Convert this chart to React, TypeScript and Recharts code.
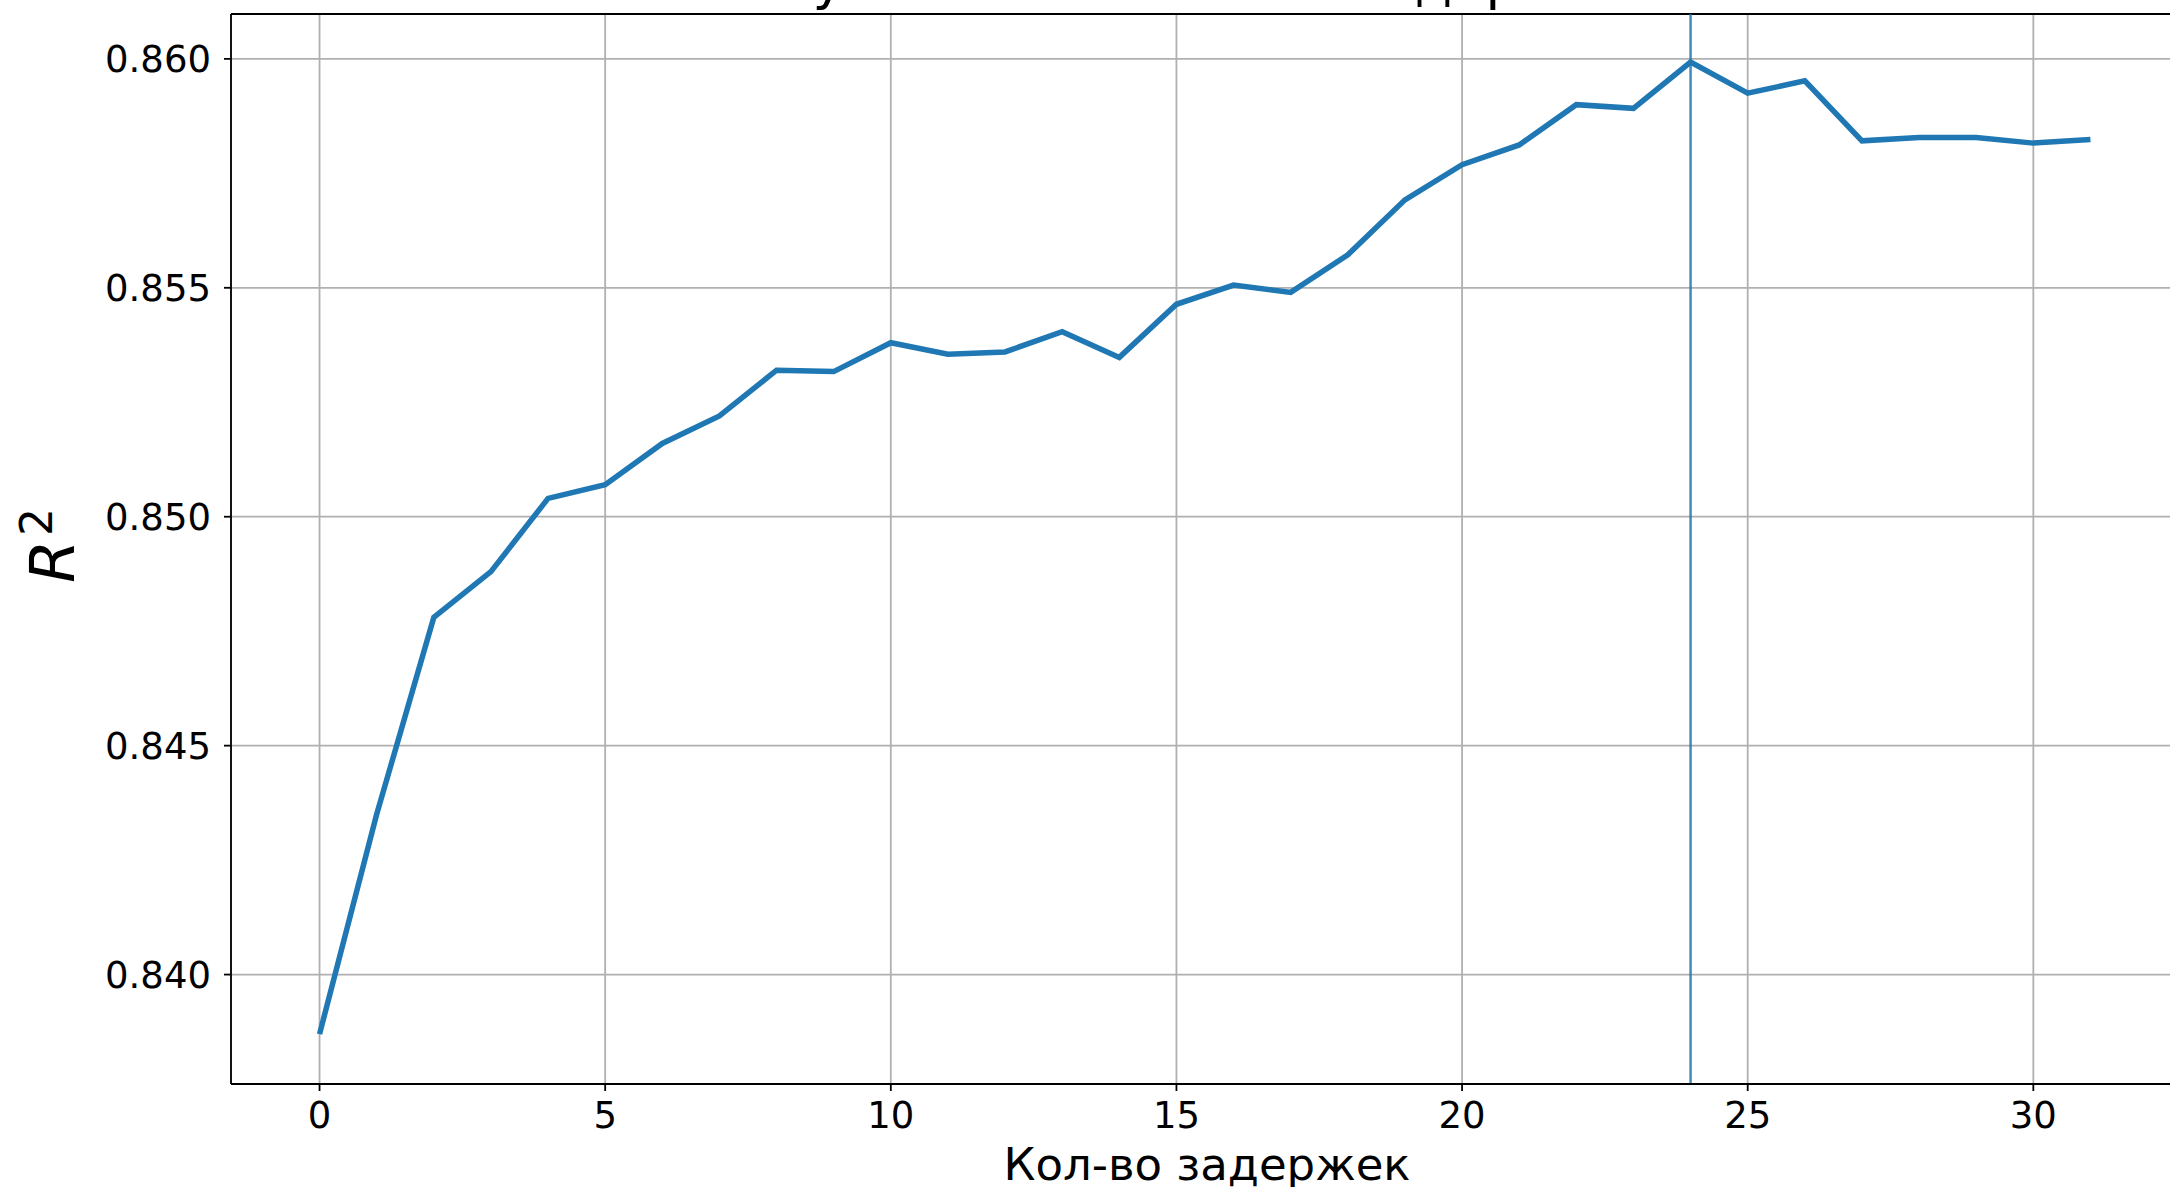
import { LineChart, Line, XAxis, YAxis, CartesianGrid, ReferenceLine } from 'recharts'

const lags = [0, 1, 2, 3, 4, 5, 6, 7, 8, 9, 10, 11, 12, 13, 14, 15, 16, 17, 18, 19, 20, 21, 22, 23, 24, 25, 26, 27, 28, 29, 30, 31]
const r2 = [
  0.8387, 0.8435, 0.8478, 0.8488, 0.8504, 0.8507, 0.8516, 0.8522, 0.8532, 0.85317,
  0.8538, 0.85355, 0.8536, 0.85404, 0.85348, 0.85464, 0.85506, 0.8549, 0.85572, 0.85692,
  0.85769, 0.85812, 0.859, 0.85892, 0.85993, 0.85925, 0.85952, 0.85821, 0.85828, 0.85828,
  0.85816, 0.85824,
]
const xTicks = [0, 5, 10, 15, 20, 25, 30]
const yTicks = [0.84, 0.845, 0.85, 0.855, 0.86]
const bestLag = 24

const xDomain: [number, number] = [-1.55, 32.55]
const yDomain: [number, number] = [0.83761, 0.86098]

const data = lags.map((lag, i) => ({ lag, r2: r2[i] }))

const FONT = '"DejaVu Sans", sans-serif'
const tickStyle = { fontSize: 37, fill: '#000', fontFamily: FONT }

export default function App() {
  return (
    <div style={{ position: 'relative', width: 2170, height: 1187, overflow: 'hidden', background: '#fff' }}>
      <style>{`body{margin:0}`}</style>
      <LineChart width={2189} height={1187} data={data} margin={{ top: 14, right: 10, bottom: 0, left: 0 }}>
        <CartesianGrid stroke="#b0b0b0" strokeWidth={1.8} />
        <XAxis
          dataKey="lag"
          type="number"
          domain={xDomain}
          ticks={xTicks}
          allowDataOverflow
          height={103}
          tickSize={7}
          tickMargin={11}
          tick={tickStyle}
          stroke="#000"
          strokeWidth={1.8}
          tickLine={{ stroke: '#000', strokeWidth: 1.8 }}
        />
        <YAxis
          type="number"
          domain={yDomain}
          ticks={yTicks}
          allowDataOverflow
          width={231}
          tickSize={7}
          tickMargin={13}
          tick={tickStyle}
          tickFormatter={(v: number) => v.toFixed(3)}
          stroke="#000"
          strokeWidth={1.8}
          tickLine={{ stroke: '#000', strokeWidth: 1.8 }}
        />
        <ReferenceLine y={yDomain[1]} stroke="#000" strokeWidth={1.8} />
        <ReferenceLine x={bestLag} stroke="#1f77b4" strokeOpacity={0.85} strokeWidth={2.5} />
        <Line
          type="linear"
          dataKey="r2"
          stroke="#1f77b4"
          strokeWidth={5.5}
          dot={false}
          activeDot={false}
          isAnimationActive={false}
        />
      </LineChart>
      <svg width={2170} height={1187} style={{ position: 'absolute', left: 0, top: 0, pointerEvents: 'none' }}>
        <text x={772} y={-1} fontSize={54} fontFamily={FONT} fill="#000">
          Лучшее количество задержек
        </text>
        <text x={1207} y={1180} fontSize={45} fontFamily={FONT} fill="#000" textAnchor="middle">
          Кол-во задержек
        </text>
        <text transform="translate(74,583) rotate(-90)" fontFamily={FONT} fontStyle="italic" fill="#000">
          <tspan fontSize={62}>R</tspan>
          <tspan fontSize={44} fontStyle="normal" dx={4} dy={-22}>2</tspan>
        </text>
      </svg>
    </div>
  )
}
